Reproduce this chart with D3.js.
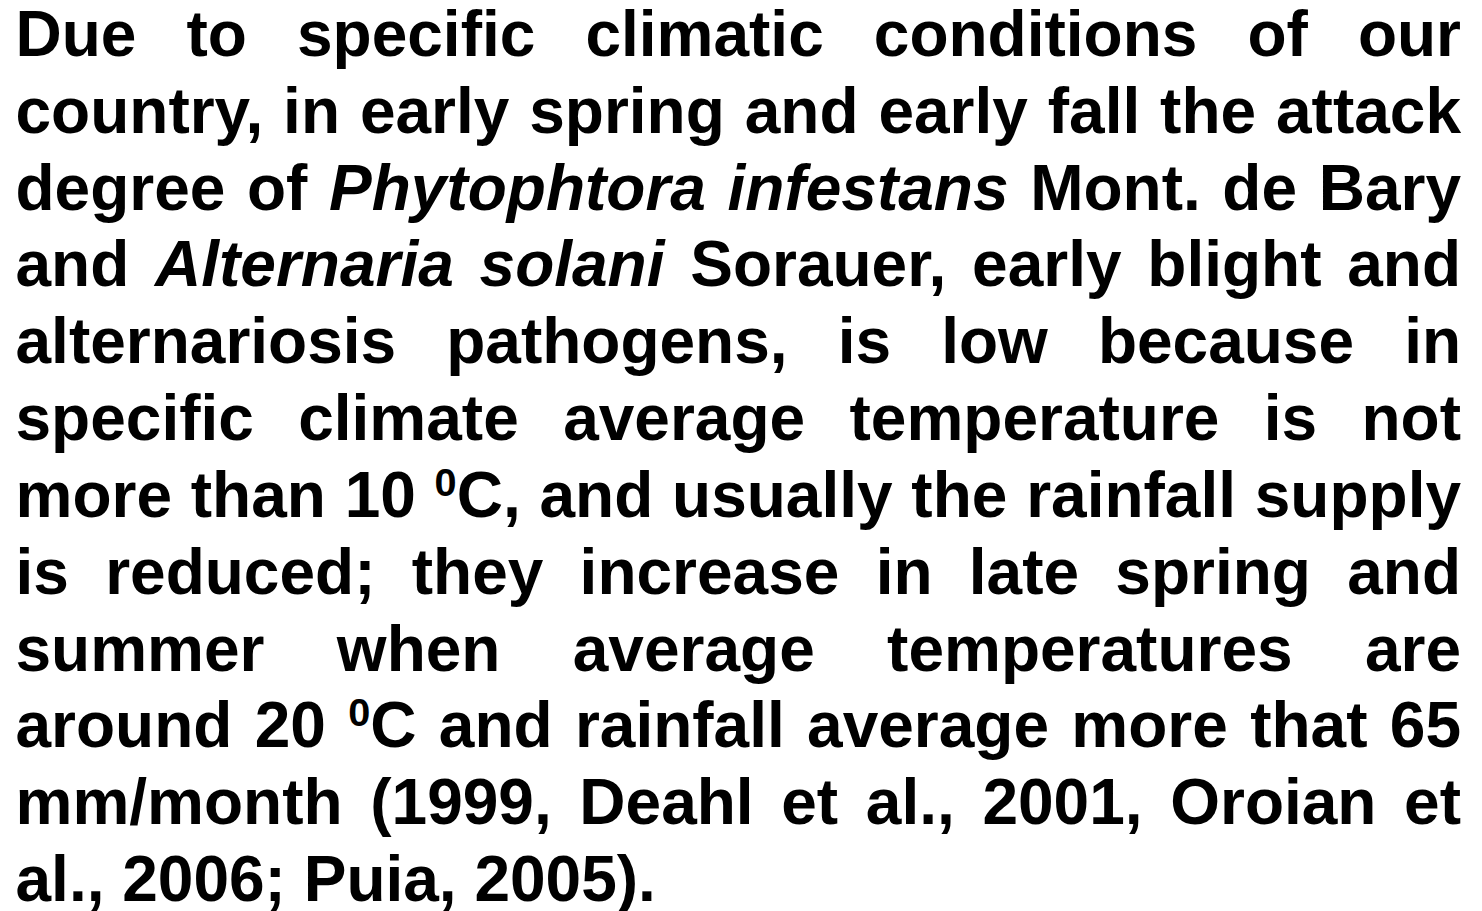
<!DOCTYPE html>
<html>
<head>
<meta charset="utf-8">
<script src="https://cdn.jsdelivr.net/npm/d3@7"></script>
<style>
  body { margin: 0; background: #fff; }
  text { font-family: "Liberation Sans", Arial, sans-serif; font-weight: bold; fill: #000; }
</style>
</head>
<body>
<div id="slide"></div>
<script>
// paragraph lines, _..._ marks italic, ^ marks a superscript character
const lines = [
  "Due to specific climatic conditions of our",
  "country, in early spring and early fall the attack",
  "degree of _Phytophtora infestans_ Mont. de Bary",
  "and _Alternaria solani_ Sorauer, early blight and",
  "alternariosis pathogens, is low because in",
  "specific climate average temperature is not",
  "more than 10 ^0C, and usually the rainfall supply",
  "is reduced; they increase in late spring and",
  "summer when average temperatures are",
  "around 20 ^0C and rainfall average more that 65",
  "mm/month (1999, Deahl et al., 2001, Oroian et",
  "al., 2006; Puia, 2005)."
];
const lastLine = lines.length - 1; // not justified

const width = 1482, height = 911;
const margin = { left: 15.5, right: 21 };
const fontSize = 64;

const svg = d3.select("#slide")
  .append("svg")
  .attr("width", width)
  .attr("height", height);

const y = d3.scaleLinear()
  .domain([0, lastLine])
  .range([56, 901]);

const x = d3.scaleLinear()
  .domain([0, 1])
  .range([margin.left, width - margin.right]);

// split a line into words, each word a list of segments
function parseLine(str) {
  let italic = false;
  return str.split(" ").map(tok => {
    const segs = [];
    let buf = "";
    for (let i = 0; i < tok.length; i++) {
      const ch = tok[i];
      if (ch === "_") {
        if (buf) segs.push({ t: buf, it: italic, sup: false });
        buf = "";
        italic = !italic;
      } else if (ch === "^") {
        if (buf) segs.push({ t: buf, it: italic, sup: false });
        buf = "";
        segs.push({ t: tok[++i], it: italic, sup: true });
      } else {
        buf += ch;
      }
    }
    if (buf) segs.push({ t: buf, it: italic, sup: false });
    return segs;
  });
}

const supShift = 0.33, supSize = 0.62;

function addWord(sel, segs) {
  segs.forEach((s, i) => {
    const prevSup = i > 0 && segs[i - 1].sup;
    let dy = 0;
    if (s.sup) dy = -fontSize * supShift;
    else if (prevSup) dy = fontSize * supShift;
    sel.append("tspan")
      .attr("dy", dy)
      .attr("font-style", s.it ? "italic" : "normal")
      .attr("font-size", s.sup ? fontSize * supSize : fontSize)
      .text(s.t);
  });
}

const spaceW = (() => {
  const t = svg.append("text").attr("font-size", fontSize).text("a a");
  const w = t.node().getComputedTextLength();
  t.text("aa");
  const w2 = t.node().getComputedTextLength();
  t.remove();
  return w - w2;
})();

lines.forEach((str, li) => {
  const words = parseLine(str);
  const g = svg.append("g").attr("class", "line");
  const nodes = words.map(segs => {
    const t = g.append("text").attr("y", y(li)).attr("font-size", fontSize);
    addWord(t, segs);
    return t;
  });
  const widths = nodes.map(n => n.node().getComputedTextLength());
  const total = d3.sum(widths);
  const avail = x(1) - x(0);
  const gap = li === lastLine || words.length < 2
    ? spaceW
    : (avail - total) / (words.length - 1);
  let cx = x(0);
  nodes.forEach((n, i) => {
    n.attr("x", cx);
    cx += widths[i] + gap;
  });
});
</script>
</body>
</html>
